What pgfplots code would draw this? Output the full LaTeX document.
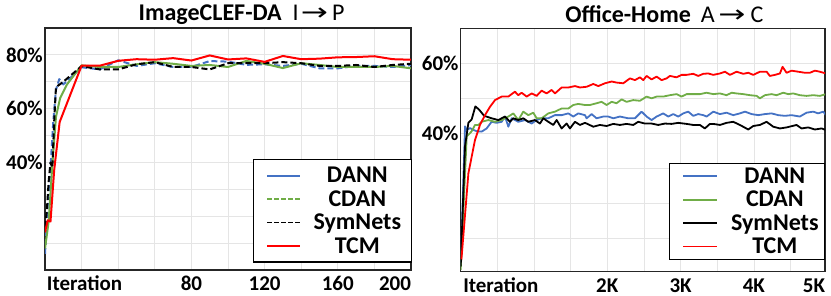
\documentclass[border=0pt]{standalone}
\usepackage{pgfplots}
\pgfplotsset{compat=1.18}
\usepackage{graphicx}
\usepackage{fontspec}
\setmainfont{Carlito}
\newfontfamily\arrowfont{DejaVu Sans}
\definecolor{cblue}{HTML}{4472C4}
\definecolor{cgreen}{HTML}{70AD47}
\definecolor{cred}{HTML}{FF0000}
\newcommand{\arr}{\scalebox{1.35}[1]{\arrowfont →}}
\pgfplotsset{
  myaxis/.style={
    scale only axis,
    axis line style={line width=1.3pt, black!85},
    major tick length=0pt,
    grid=major,
    grid style={line width=0.8pt, black!10},
    tick label style={font=\fontsize{21}{25}\selectfont\bfseries},
    /pgf/number format/assume math mode=true,
    xticklabel style={anchor=base, yshift=-20.5pt, inner sep=0pt},
    yticklabel style={anchor=east, inner sep=0pt, xshift=-2pt},
    legend style={anchor=south east, draw=black, line width=1.3pt,
      font=\fontsize{24}{28}\selectfont\bfseries,
      cells={anchor=center}, nodes={inner xsep=0pt, inner ysep=3.1pt}},
    every axis title/.style={at={(0,1)}, anchor=base west, inner sep=0pt,
      font=\fontsize{24}{28}\selectfont\bfseries},
  },
  pl/.style={line width=2pt, line join=round},
}
\newcommand{\legtxt}[2]{\makebox[#1pt][c]{\rule[-3pt]{0pt}{18.6pt}#2}}
\begin{document}
\begin{tikzpicture}
\begin{axis}[myaxis,
  width=366pt, height=242pt,
  xmin=0, xmax=200, ymin=0, ymax=90,
  xtick={0,20,...,200},
  xticklabels={,,,,80,,120,,160,,\llap{200}},
  ytick={0,10,...,90},
  yticklabels={,,,,40\%,,60\%,,80\%,},
  extra x ticks={21.6}, extra x tick labels={Iteration},
  extra x tick style={grid=none},
  every axis title/.append style={xshift=93.5pt, yshift=7.6pt},
  title={ImageCLEF-DA\hspace{11pt}{\mdseries I\hspace{2.2pt}\arr\hspace{4pt}P}},
  legend style={at={(1,0)}, xshift=1.5pt, yshift=7.3pt, inner xsep=10pt, inner ysep=4.4pt},
  legend image code/.code={\draw[#1, line width=1.9pt] (2.5pt,0pt) -- (35.5pt,0pt); \path (0pt,0pt) (47pt,0pt);},
]
\addplot[pl, cblue, dash pattern=on 6pt off 3pt, legend image post style={solid}] coordinates {
(0,6) (1.5,24) (3,38) (4.5,55) (6,67) (7.8,71) (10,69) (20,75.4) (30,74.6) (40,78) (50,75.9) (60,76.9) (70,75.5) (80,75.5) (90,77.7) (100,77.5) (110,76.3) (120,76.5) (130,75.9) (140,76.7) (150,75) (160,75) (170,75.9) (180,75.9) (190,75.5) (200,76.2)};
\addlegendentry{\legtxt{89}{DANN}}
\addplot[pl, cgreen, legend image post style={dash pattern=on 5pt off 2pt}] coordinates {
(0,8) (2,18) (4,39) (6,57) (8.3,64) (12,69) (20,76.1) (30,75.5) (40,75.5) (50,76.5) (60,77.3) (70,76.7) (80,75.9) (90,76.25) (100,75.5) (110,77.75) (120,76.7) (130,75.1) (140,76.9) (150,76.25) (160,75.5) (170,75.5) (180,75.5) (190,75.9) (200,75)};
\addlegendentry{\legtxt{89}{CDAN}}
\addplot[pl, black, dash pattern=on 6pt off 3pt, legend image post style={dash pattern=on 5pt off 2pt}] coordinates {
(0,16) (1,22) (2,33) (3,40) (4,38) (5,55) (6,68) (8,69) (10,70) (20,75.8) (30,74.6) (40,74.6) (50,76.5) (60,77.3) (70,75.5) (80,75.5) (90,74.6) (100,76.9) (110,76.9) (120,76.9) (130,77.3) (140,76.9) (150,75.9) (160,75.9) (170,76.25) (180,75.5) (190,76.25) (200,76.7)};
\addlegendentry{\legtxt{89}{SymNets}}
\addplot[pl, cred] coordinates {
(0,14) (1.5,18.5) (3,18) (5,37) (8,55) (20,76) (30,76) (40,77.8) (50,78.4) (60,78.2) (70,78.8) (80,77.9) (90,79.8) (100,78.3) (110,78.7) (120,77.4) (130,79.6) (140,78.4) (150,78.6) (160,79.1) (170,79.2) (180,79.5) (190,78.4) (200,78.2)};
\addlegendentry{\legtxt{89}{TCM}}
\node[rotate=90, anchor=base west, font=\fontsize{21}{25}\selectfont\bfseries] at ([xshift=-10.5pt,yshift=-7pt]rel axis cs:0,0) {Accuracy};
\end{axis}
\begin{axis}[myaxis, at={(415.7pt,-1.7pt)}, anchor=south west,
  width=364.3pt, height=243.4pt,
  xmin=0, xmax=4970, ymin=0.5, ymax=70,
  xtick={0,500,...,4500,4970},
  xticklabels={,,,,2K,,3K,,4K,,\llap{5K}},
  ytick={10,20,...,70},
  yticklabels={,,,40\%,,60\%,},
  extra x ticks={548}, extra x tick labels={Iteration},
  extra x tick style={grid=none},
  every axis title/.append style={xshift=104.5pt, yshift=5.5pt},
  title={Office-Home\hspace{10pt}{\mdseries A\hspace{3.7pt}\arr\hspace{5pt}C}},
  legend style={at={(1,0)}, xshift=0pt, yshift=11.7pt, inner xsep=8pt, inner ysep=1.1pt},
  legend image code/.code={\draw[#1, line width=1.9pt] (5.3pt,0pt) -- (39.3pt,0pt); \path (0pt,0pt) (54.3pt,0pt);},
]
\addplot[pl, cblue, line width=1.8pt] coordinates {
(0,2) (59,42) (82,41) (127,41.5) (172,41) (218,40.6) (286,40.5) (354,41.4) (422,43.3) (490,43) (559,43.3) (604,44.8) (650,41.9) (695,44.3) (786,43.3) (877,43.8) (968,42.8) (1036,43.8) (1104,44.3) (1195,44.3) (1286,45.2) (1377,45.2) (1468,45.7) (1536,44.8) (1604,45.7) (1695,45.2) (1718,44.3) (1786,45.5) (1854,44.3) (1945,44.8) (2013,44.8) (2081,44.3) (2172,44.8) (2286,44.3) (2377,44.3) (2468,46.2) (2536,44.8) (2604,43.8) (2673,44.8) (2763,45.7) (2831,44.8) (2900,45.5) (2968,44.8) (3036,45.7) (3104,46.2) (3172,45) (3241,45.5) (3309,45.2) (3355,44.8) (3446,46.2) (3537,45.5) (3627,45.9) (3718,45.2) (3809,45.7) (3878,46.2) (3969,45.5) (4059,45.2) (4150,45.5) (4241,45.7) (4332,45.2) (4423,45) (4514,45.2) (4627,44.8) (4718,45.9) (4809,46.2) (4877,45.7) (4946,46.2) (4991,45)};
\addlegendentry{\legtxt{83}{DANN}}
\addplot[pl, cgreen, line width=1.8pt] coordinates {
(0,1) (82,39.1) (150,40.6) (195,42.4) (241,42.4) (286,43.3) (377,43.8) (468,43.3) (559,43.8) (650,44.8) (718,45.7) (786,43.8) (854,46.2) (922,45.2) (990,45.9) (1036,44.3) (1104,44.3) (1195,45.7) (1286,46.2) (1377,47.1) (1468,47.1) (1536,48.1) (1604,48.4) (1695,48.1) (1763,48.1) (1854,48.6) (1922,49) (1990,48.1) (2059,49) (2127,48.6) (2195,49.7) (2263,49) (2354,49.5) (2445,49.3) (2536,50.5) (2604,50) (2673,50.5) (2763,50.5) (2854,50.9) (2945,51.2) (3013,50.5) (3081,51.2) (3172,51.2) (3263,51.2) (3354,51.6) (3446,51.2) (3537,51.4) (3627,50.9) (3696,51.6) (3764,51.4) (3855,51.2) (3946,50.9) (4037,50.7) (4082,50) (4150,50.9) (4241,51.2) (4309,50.9) (4400,51.6) (4469,51.2) (4537,51.4) (4627,50.9) (4718,50.7) (4809,50.9) (4900,50.7) (4982,51.2)};
\addlegendentry{\legtxt{83}{CDAN}}
\addplot[pl, black, line width=1.8pt] coordinates {
(0,2) (59,36.3) (105,43) (150,44) (200,47.7) (250,46.8) (320,45) (422,44.3) (513,43.8) (604,44.8) (672,43.3) (718,44.3) (786,43.8) (854,44.3) (922,43.3) (1013,43.8) (1081,42.8) (1127,44.3) (1195,43.3) (1263,42.4) (1309,43.8) (1377,41.4) (1445,42.8) (1490,41.4) (1559,43.3) (1627,42.4) (1695,43) (1718,42.8) (1809,41.9) (1899,42.4) (1990,42.1) (2081,42.7) (2172,42.4) (2263,42.7) (2354,42.4) (2422,43.3) (2513,42.8) (2604,42.8) (2695,42.4) (2786,42.8) (2877,42.7) (2968,43) (3081,42.7) (3172,42.4) (3263,42.4) (3331,41.4) (3400,42.7) (3446,42.7) (3537,42.4) (3627,43) (3718,43.3) (3809,42.4) (3923,41.1) (3991,42.1) (4082,42.4) (4173,43.3) (4264,41.9) (4355,41.4) (4446,41.7) (4582,42.4) (4650,41.4) (4741,41.7) (4832,41.1) (4923,41.4) (4991,40.9)};
\addlegendentry{\legtxt{83}{SymNets}}
\addplot[pl, cred, line width=1.8pt] coordinates {
(10,4) (105,28.6) (195,38.1) (263,42.4) (331,45.2) (400,47.6) (468,49.5) (559,50.5) (650,50.5) (740,51.9) (786,50.9) (831,51.6) (900,50.5) (968,51.4) (1036,50.7) (1104,52.2) (1172,51.4) (1240,52.4) (1286,51.4) (1377,53.1) (1468,53.1) (1559,53.5) (1627,53.1) (1718,53.3) (1809,54.1) (1877,53.5) (1968,54.3) (2059,54.8) (2127,54.5) (2218,54.3) (2309,55.7) (2377,55.2) (2445,56) (2491,55.2) (2536,56.4) (2604,55.4) (2673,56.2) (2741,55.2) (2809,55.7) (2854,56.4) (2945,56) (3013,56.7) (3081,56.7) (3172,57) (3241,56.4) (3309,57) (3377,57.1) (3446,56.7) (3537,57.1) (3605,57.6) (3673,56.7) (3764,57.6) (3855,57) (3923,57.3) (3991,56.7) (4082,57.6) (4173,57.6) (4218,56.4) (4287,56.7) (4355,57.1) (4391,59) (4446,57.3) (4514,57.9) (4605,57.6) (4696,57.3) (4764,57.3) (4832,57.9) (4900,57.6) (4982,57.1)};
\addlegendentry{\legtxt{83}{TCM}}
\node[rotate=90, anchor=base west, font=\fontsize{21}{25}\selectfont\bfseries] at ([xshift=-10.5pt,yshift=-5.3pt]rel axis cs:0,0) {Accuracy};
\end{axis}
\pgfresetboundingbox
\path[use as bounding box] (-45pt,-26pt) rectangle (786pt,270pt);
\end{tikzpicture}
\end{document}
